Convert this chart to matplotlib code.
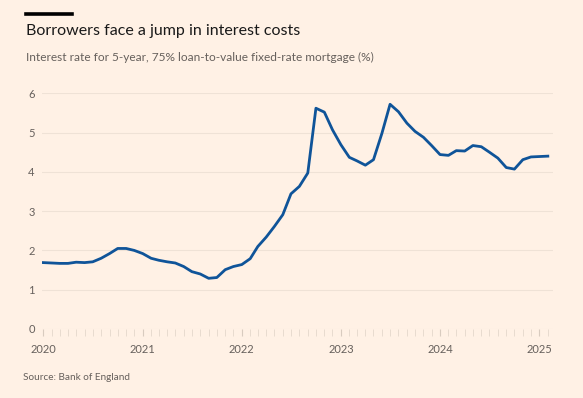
"""Borrowers face a jump in interest costs - FT style line chart"""

import matplotlib.pyplot as plt
import matplotlib.dates as mdates
import pandas as pd

# monthly rate, Jan 2020 .. Feb 2025 (%)
start_month = "2020-01-01"
rates = [
    1.69, 1.68, 1.67, 1.67, 1.70, 1.69, 1.71, 1.80, 1.92, 2.05, 2.05, 2.00,  # 2020
    1.92, 1.80, 1.75, 1.71, 1.68, 1.59, 1.46, 1.40, 1.29, 1.31, 1.51, 1.59,  # 2021
    1.64, 1.79, 2.10, 2.34, 2.61, 2.91, 3.44, 3.63, 3.97, 5.62, 5.52, 5.07,  # 2022
    4.69, 4.37, 4.28, 4.17, 4.31, 4.98, 5.72, 5.53, 5.24, 5.03, 4.88, 4.67,  # 2023
    4.44, 4.42, 4.54, 4.53, 4.67, 4.64, 4.50, 4.35, 4.11, 4.07, 4.31, 4.38,  # 2024
    4.39, 4.40,                                                              # 2025
]
y_ticks = [0, 1, 2, 3, 4, 5, 6]
year_ticks = ["2020", "2021", "2022", "2023", "2024", "2025"]

title = "Borrowers face a jump in interest costs"
subtitle = "Interest rate for 5-year, 75% loan-to-value fixed-rate mortgage (%)"
source = "Source: Bank of England"

bg = "#fff1e5"
line_col = "#0f5499"
grid_col = "#efe2d6"
text_col = "#66605c"

plt.rcParams["font.family"] = ["Lato", "DejaVu Sans"]

dates = pd.date_range(start_month, periods=len(rates), freq="MS")

fig = plt.figure(figsize=(5.83, 3.98), dpi=100, facecolor=bg)
ax = fig.add_axes([0.0715, 0.1734, 0.877, 0.5922])
ax.set_facecolor(bg)

ax.plot(dates, rates, color=line_col, linewidth=2.0, solid_joinstyle="round", zorder=3)

# axes limits
ax.set_ylim(0, 6)
ax.set_xlim(pd.Timestamp("2019-12-26"), pd.Timestamp("2025-02-20"))

ax.set_yticks(y_ticks)
ax.set_yticklabels([str(t) for t in y_ticks])
ax.yaxis.grid(True, color=grid_col, linewidth=0.8)
ax.tick_params(axis="y", length=0, pad=5, labelsize=8, labelcolor=text_col)

ax.set_xticks([pd.Timestamp(y + "-01-01") for y in year_ticks])
ax.set_xticklabels(year_ticks)
ax.xaxis.set_minor_locator(mdates.MonthLocator())
ax.tick_params(axis="x", which="major", length=5, width=0.8, color="#d8cbbf",
               pad=5.5, labelsize=8, labelcolor=text_col)
ax.tick_params(axis="x", which="minor", length=5, width=0.6, color="#e4d7cb")

for s in ax.spines.values():
    s.set_visible(False)

# title block
fig.add_artist(plt.Line2D([26 / 583, 72 / 583], [1 - 14 / 398, 1 - 14 / 398],
                          color="black", linewidth=2.6))
fig.text(26 / 583, 1 - 31 / 398, title, fontsize=11.5, color="#1a1a1a", va="center")
fig.text(26 / 583, 1 - 57 / 398, subtitle, fontsize=8.6, color=text_col, va="center")
fig.text(23 / 583, 1 - 377 / 398, source, fontsize=7.2, color=text_col, va="center")

fig.savefig("out.png", dpi=100, facecolor=bg)
